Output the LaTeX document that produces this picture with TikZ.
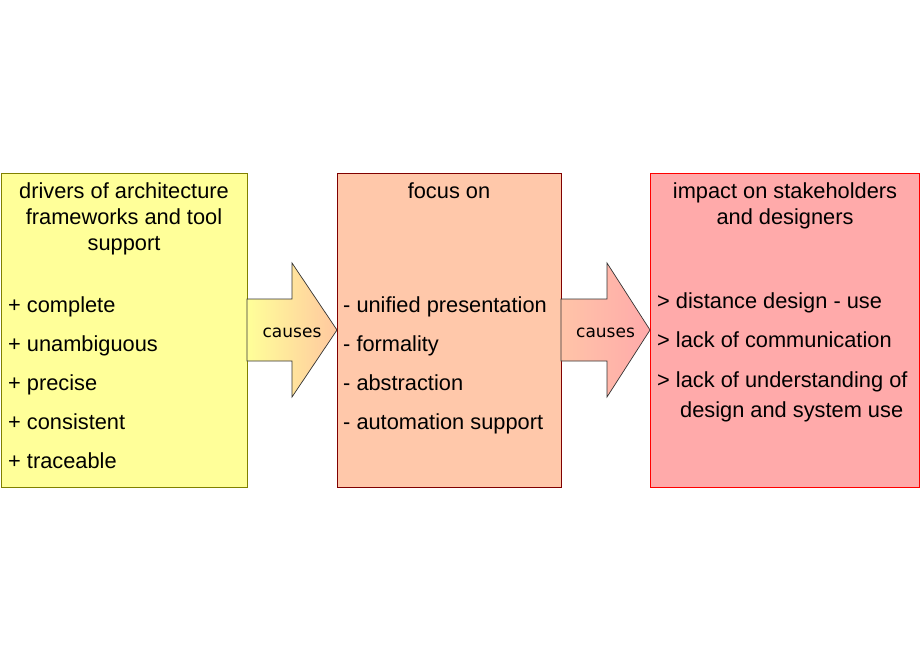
\documentclass[tikz,border=0pt]{standalone}
\usepackage{fontspec}
\setmainfont{Liberation Sans}
\newfontfamily\dvs{DejaVu Sans}
\definecolor{yfill}{HTML}{FFFF99}
\definecolor{yedge}{HTML}{808000}
\definecolor{ofill}{HTML}{FFC8AA}
\definecolor{oedge}{HTML}{800000}
\definecolor{rfill}{HTML}{FFAAAA}
\definecolor{redge}{HTML}{FF0000}
\definecolor{a1l}{HTML}{FFFF99}
\definecolor{a1r}{HTML}{FFC8A0}
\definecolor{a2l}{HTML}{FFC4A8}
\definecolor{a2r}{HTML}{FFAAAA}
\begin{document}
\begin{tikzpicture}[x=1pt,y=-1pt,
  box/.style={rectangle, inner sep=0pt, outer sep=0pt, line width=1pt, anchor=north west},
  txt/.style={inner sep=0pt, font=\fontsize{21.8}{25}\selectfont},
  ttl/.style={txt, anchor=base},
  itm/.style={txt, anchor=base west},
  cz/.style={inner sep=0pt, anchor=base, font=\dvs\fontsize{17}{20}\selectfont},
  arr/.style={draw=black!80, line width=0.7pt, line join=miter}]
\useasboundingbox[fill=white] (0,0) rectangle (920,660);
% boxes
\node[box, fill=yfill, draw=yedge, minimum width=246pt, minimum height=313pt] (drivers) at (1,174) {};
\node[box, fill=ofill, draw=oedge, minimum width=224pt, minimum height=313pt] (focus) at (337,174) {};
\node[box, fill=rfill, draw=redge, minimum width=269pt, minimum height=313pt] (impact) at (650,174) {};
% arrows
\shade[arr, left color=a1l, right color=a1r]
  (247,299) -- (292,299) -- (292,263) -- (337,330) -- (292,397) -- (292,361) -- (247,361) -- cycle;
\shade[arr, left color=a2l, right color=a2r]
  (561,299) -- (607,299) -- (607,263) -- (650,330) -- (607,397) -- (607,361) -- (561,361) -- cycle;
\node[cz] (c1) at (292,337) {causes};
\node[cz] (c2) at (605.5,337) {causes};
% left texts
\node[ttl] (t1a) at (124,199) {drivers of architecture};
\node[ttl] (t1b) at (124,225) {frameworks and tool};
\node[ttl] (t1c) at (124,251) {support};
\node[itm] (l1) at (8,312) {+ complete};
\node[itm] (l2) at (8,351) {+ unambiguous};
\node[itm] (l3) at (8,390) {+ precise};
\node[itm] (l4) at (8,429) {+ consistent};
\node[itm] (l5) at (8,468) {+ traceable};
% middle texts
\node[ttl] (t2) at (449,199) {focus on};
\node[itm] (m1) at (343,312) {- unified presentation};
\node[itm] (m2) at (343,351) {- formality};
\node[itm] (m3) at (343,390) {- abstraction};
\node[itm] (m4) at (343,429) {- automation support};
% right texts
\node[ttl] (t3a) at (785,199) {impact on stakeholders};
\node[ttl] (t3b) at (785,225) {and designers};
\node[itm] (r1) at (657,308) {> distance design - use};
\node[itm] (r2) at (657,347) {> lack of communication};
\node[itm] (r3) at (657,387) {> lack of understanding of};
\node[itm] (r4) at (680,417) {design and system use};
\end{tikzpicture}
\end{document}
